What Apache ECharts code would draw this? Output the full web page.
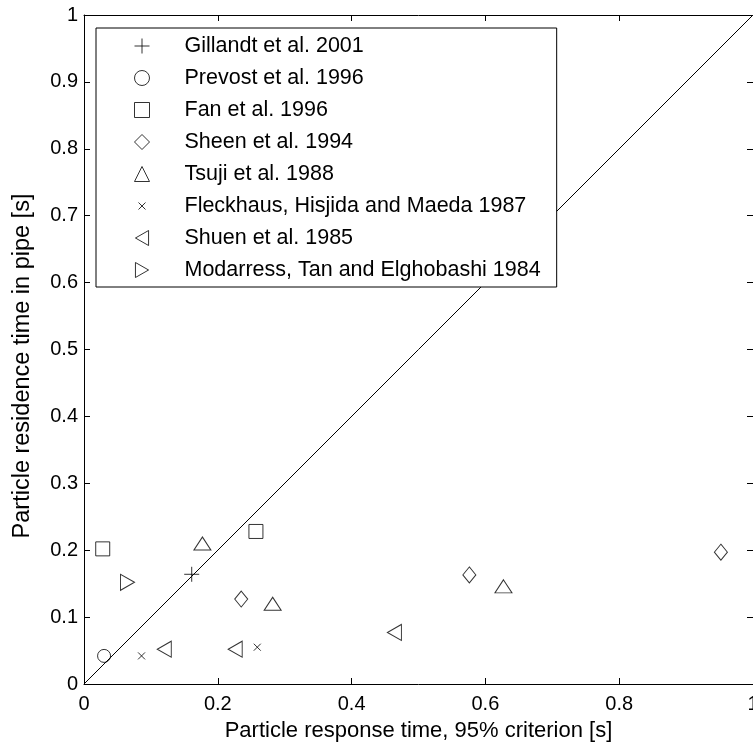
<!DOCTYPE html>
<html>
<head>
<meta charset="utf-8">
<script src="https://cdn.jsdelivr.net/npm/echarts@6/dist/echarts.min.js"></script>
<style>
  html, body { margin: 0; padding: 0; background: #fff; }
  #chart { width: 753px; height: 744px; }
</style>
</head>
<body>
<div id="chart"></div>
<script>
// Particle response time (x) vs. residence time in pipe (y), one series per study
const gillandt2001 = [[0.161, 0.164]];
const prevost1996 = [[0.030, 0.042]];
const fan1996 = [[0.028, 0.202], [0.257, 0.228]];
const sheen1994 = [[0.235, 0.127], [0.576, 0.163], [0.952, 0.197]];
const tsuji1988 = [[0.177, 0.210], [0.282, 0.120], [0.627, 0.146]];
const fleckhaus1987 = [[0.086, 0.042], [0.259, 0.055]];
const shuen1985 = [[0.120, 0.052], [0.226, 0.052], [0.464, 0.077]];
const modarress1984 = [[0.065, 0.152]];

// Reference line: residence time equal to response time
const parityLine = [[0, 0], [1, 1]];

const seriesNames = [
  'Gillandt et al. 2001',
  'Prevost et al. 1996',
  'Fan et al. 1996',
  'Sheen et al. 1994',
  'Tsuji et al. 1988',
  'Fleckhaus, Hisjida and Maeda 1987',
  'Shuen et al. 1985',
  'Modarress, Tan and Elghobashi 1984'
];

const xTicks = [0, 0.2, 0.4, 0.6, 0.8, 1];
const yTicks = [0, 0.1, 0.2, 0.3, 0.4, 0.5, 0.6, 0.7, 0.8, 0.9, 1];

const FONT = 'Liberation Sans, Arial, sans-serif';
// Outline-only marker shapes; the leading moves pad the cross inside its box
const PLUS = 'path://M5,0L5,10M0,5L10,5';
const CROSS = 'path://M0,0M15,15M4,4L11,11M4,11L11,4';
const TRI_LEFT = 'path://M0,8L14,0L14,16Z';
const TRI_RIGHT = 'path://M14,8L0,0L0,16Z';

const markerStyle = { color: 'transparent', borderColor: '#000', borderWidth: 1 };

function scatter(name, data, symbol, size) {
  return {
    name: name,
    type: 'scatter',
    data: data,
    symbol: symbol,
    symbolSize: size,
    itemStyle: markerStyle,
    emphasis: { disabled: true },
    z: 3
  };
}

const fmtTick = v => {
  const r = Math.round(v * 10) / 10;
  return r === 0 ? '0' : (r === 1 ? '1' : String(r));
};

const labelStyle = { color: '#000', fontSize: 20, fontFamily: FONT };

const chart = echarts.init(document.getElementById('chart'), null, { renderer: 'canvas' });

chart.setOption({
  backgroundColor: '#fff',
  animation: false,
  grid: { left: 84, right: 0, top: 15, bottom: 60, containLabel: false, outerBoundsMode: 'none' },
  legend: {
    data: seriesNames,
    orient: 'vertical',
    left: 96,
    top: 28,
    padding: [7, 16, 6, 38],
    itemWidth: 15,
    itemHeight: 15,
    itemGap: 10,
    backgroundColor: '#fff',
    borderColor: '#000',
    borderWidth: 1,
    itemStyle: { color: 'inherit', borderColor: 'inherit', borderWidth: 1 },
    textStyle: { color: '#000', fontSize: 21.5, fontFamily: FONT, lineHeight: 22, padding: [0, 0, 0, 30] },
    selectedMode: false,
    z: 10
  },
  xAxis: [
    {
      type: 'value', position: 'bottom', min: 0, max: 1, interval: 0.2,
      name: 'Particle response time, 95% criterion [s]',
      nameLocation: 'middle', nameGap: 36,
      nameTextStyle: { color: '#000', fontSize: 22, fontFamily: FONT },
      axisLine: { show: true, onZero: false, lineStyle: { color: '#000', width: 1 } },
      axisTick: { show: true, inside: true, length: 6, lineStyle: { color: '#000' } },
      axisLabel: Object.assign({ margin: 10, formatter: fmtTick }, labelStyle),
      splitLine: { show: false }
    },
    {
      type: 'value', position: 'top', min: 0, max: 1, interval: 0.2,
      axisLine: { show: true, onZero: false, lineStyle: { color: '#000', width: 1 } },
      axisTick: { show: true, inside: true, length: 6, lineStyle: { color: '#000' } },
      axisLabel: { show: false },
      splitLine: { show: false }
    }
  ],
  yAxis: [
    {
      type: 'value', position: 'left', min: 0, max: 1, interval: 0.1,
      name: 'Particle residence time in pipe [s]',
      nameLocation: 'middle', nameGap: 49,
      nameTextStyle: { color: '#000', fontSize: 23.5, fontFamily: FONT, padding: [0, 33, 0, 0] },
      axisLine: { show: true, onZero: false, lineStyle: { color: '#000', width: 1 } },
      axisTick: { show: true, inside: true, length: 6, lineStyle: { color: '#000' } },
      axisLabel: Object.assign({ margin: 6, formatter: fmtTick }, labelStyle),
      splitLine: { show: false }
    },
    {
      // right frame edge sits at the window border; only its ticks are drawn
      type: 'value', position: 'right', min: 0, max: 1, interval: 0.1,
      axisLine: { show: true, onZero: false, lineStyle: { color: 'rgba(0,0,0,0)', width: 1 } },
      axisTick: { show: true, inside: true, length: 6, lineStyle: { color: '#000' } },
      axisLabel: { show: false },
      splitLine: { show: false }
    }
  ],
  series: [
    {
      name: 'parity',
      type: 'line',
      data: parityLine,
      showSymbol: false,
      symbol: 'none',
      lineStyle: { color: '#000', width: 1 },
      silent: true,
      z: 1
    },
    scatter(seriesNames[0], gillandt2001, PLUS, 15),
    scatter(seriesNames[1], prevost1996, 'circle', 13),
    scatter(seriesNames[2], fan1996, 'rect', 14),
    scatter(seriesNames[3], sheen1994, 'diamond', [13, 16]),
    scatter(seriesNames[4], tsuji1988, 'triangle', [17, 13]),
    scatter(seriesNames[5], fleckhaus1987, CROSS, 15),
    scatter(seriesNames[6], shuen1985, TRI_LEFT, [14, 16]),
    scatter(seriesNames[7], modarress1984, TRI_RIGHT, [14, 16])
  ]
});
</script>
</body>
</html>
